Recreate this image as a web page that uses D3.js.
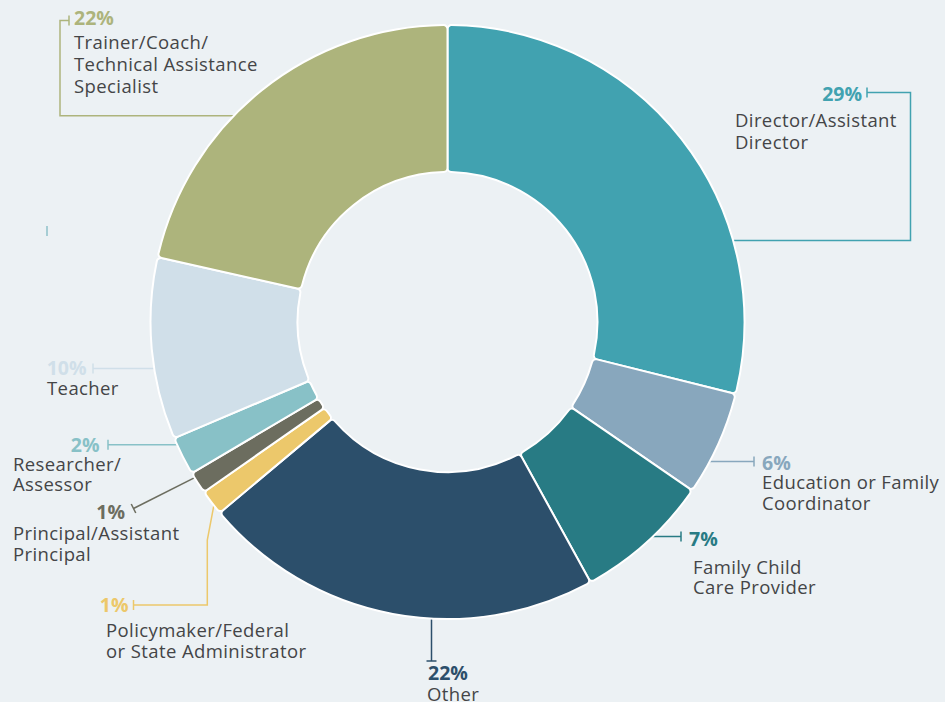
<!DOCTYPE html>
<html>
<head>
<meta charset="utf-8">
<script src="https://cdn.jsdelivr.net/npm/d3@7"></script>
<style>
  html, body { margin: 0; padding: 0; background: #ecf1f4; }
  svg { display: block; }
  text { font-family: "Open Sans", sans-serif; }
</style>
</head>
<body>
<script>
// role categories, clockwise from 12 o'clock
var categories = [
    "Director/Assistant Director",
    "Education or Family Coordinator",
    "Family Child Care Provider",
    "Other",
    "Policymaker/Federal or State Administrator",
    "Principal/Assistant Principal",
    "Researcher/Assessor",
    "Teacher",
    "Trainer/Coach/Technical Assistance Specialist"
];
// share of respondents (%)
var values = [28.9, 5.7, 7.4, 21.9, 1.4, 1.2, 2.1, 9.9, 21.5];
// label text, broken into lines as printed
var labelLines = [
    ["Director/Assistant", "Director"],
    ["Education or Family", "Coordinator"],
    ["Family Child", "Care Provider"],
    ["Other"],
    ["Policymaker/Federal", "or State Administrator"],
    ["Principal/Assistant", "Principal"],
    ["Researcher/", "Assessor"],
    ["Teacher"],
    ["Trainer/Coach/", "Technical Assistance", "Specialist"]
];
var colors = ["#41a2b0", "#88a7bd", "#287b84", "#2c4f6b", "#ecc86b",
              "#6c6d5f", "#88c1c7", "#d0dfe9", "#adb47c"];

function init() {
    var w = 945;
    var h = 702;
    var cx = 447.5, cy = 322;
    var outerR = 297, innerR = 150;

    // where each leader leaves its slice and where its label sits
    var layout = [
        { f: 0.71, path: function (s) { return [s, [910.5, s[1]], [910.5, 92.5], [867, 92.5]]; },
          pct: { x: 862, y: 101, anchor: "end" }, text: { x: 735, y: 127, lh: 22 } },
        { f: 0.70, path: function (s) { return [s, [754, s[1]]]; },
          pct: { x: 762, y: 469.5 }, text: { x: 762, y: 488.5, lh: 21 } },
        { f: 0.47, path: function (s) { return [s, [681, s[1]]]; },
          pct: { x: 689, y: 546 }, text: { x: 693, y: 574, lh: 20 } },
        { f: 0.405, path: function (s) { return [s, [s[0], 661]]; },
          pct: { x: 428, y: 680 }, text: { x: 427, y: 700.5, lh: 20 } },
        { f: 0.5, path: function (s) { return [s, [207.3, 540], [207.3, 605], [133.5, 605]]; },
          pct: { x: 128.5, y: 611.5, anchor: "end" }, text: { x: 106, y: 636.5, lh: 21.7 } },
        { f: 0.75, path: function (s) { return [s, [133.5, 508.5]]; },
          pct: { x: 125, y: 519, anchor: "end" }, text: { x: 13, y: 540, lh: 20.7 } },
        { f: 0.77, path: function (s) { return [s, [108, s[1]]]; },
          pct: { x: 99.5, y: 451.5, anchor: "end" }, text: { x: 13, y: 471, lh: 20 } },
        { f: 0.39, path: function (s) { return [s, [93, s[1]]]; },
          pct: { x: 86.5, y: 375, anchor: "end" }, text: { x: 47, y: 395, lh: 21 } },
        { f: 0.415, path: function (s) { return [s, [60, s[1]], [60, 20.5], [69, 20.5]]; },
          pct: { x: 74, y: 25 }, text: { x: 74, y: 48.5, lh: 22 } }
    ];

    var svg = d3.select("body")
                .append("svg")
                .attr("width", w)
                .attr("height", h);

    svg.append("rect")
        .attr("width", w)
        .attr("height", h)
        .attr("fill", "#ecf1f4");

    var pie = d3.pie()
        .sort(null)
        .value(function (d) { return d; });

    var arcs = pie(values);

    var arc = d3.arc()
        .innerRadius(innerR)
        .outerRadius(outerR)
        .cornerRadius(4);

    function polar(a, r) {
        return [cx + r * Math.sin(a), cy - r * Math.cos(a)];
    }

    var line = d3.line();

    // leader lines (drawn first so they tuck under the ring)
    var leaders = svg.append("g")
        .attr("fill", "none")
        .attr("stroke-width", 1.5);

    arcs.forEach(function (d, i) {
        var L = layout[i];
        var a = d.startAngle + L.f * (d.endAngle - d.startAngle);
        var pts = L.path(polar(a, outerR - 4));
        leaders.append("path")
            .attr("d", line(pts))
            .attr("stroke", colors[i]);

        // end tick, perpendicular to the last segment
        var end = pts[pts.length - 1];
        var prev = pts[pts.length - 2];
        var dx = end[0] - prev[0], dy = end[1] - prev[1];
        var len = Math.sqrt(dx * dx + dy * dy);
        var nx = -dy / len * 5, ny = dx / len * 5;
        leaders.append("path")
            .attr("d", line([[end[0] + nx, end[1] + ny], [end[0] - nx, end[1] - ny]]))
            .attr("stroke", colors[i]);
    });

    // small stray tick on the left, as in the original
    leaders.append("path")
        .attr("d", line([[47, 226], [47, 236]]))
        .attr("stroke", "#a6cdd4")
        .attr("stroke-width", 2);

    // donut
    svg.append("g")
        .attr("transform", "translate(" + cx + "," + cy + ")")
        .selectAll("path")
        .data(arcs)
        .enter()
        .append("path")
        .attr("d", arc)
        .attr("fill", function (d, i) { return colors[i]; })
        .attr("stroke", "#ffffff")
        .attr("stroke-width", 2)
        .attr("stroke-linejoin", "round");

    // labels: one text per slice, percentage + wrapped name
    var labels = svg.append("g");
    arcs.forEach(function (d, i) {
        var L = layout[i];
        var t = labels.append("text");
        t.append("tspan")
            .attr("x", L.pct.x)
            .attr("y", L.pct.y)
            .attr("text-anchor", L.pct.anchor || "start")
            .attr("font-size", 19.5)
            .attr("font-weight", 700)
            .attr("fill", colors[i])
            .text(Math.round(values[i]) + "%");

        labelLines[i].forEach(function (s, j) {
            t.append("tspan")
                .attr("x", L.text.x)
                .attr("y", L.text.y + j * L.text.lh)
                .attr("text-anchor", "start")
                .attr("font-size", 18.5)
                .attr("letter-spacing", 0.4)
                .attr("fill", "#444547")
                .text(s);
        });
    });
}

window.onload = init;
</script>
</body>
</html>
